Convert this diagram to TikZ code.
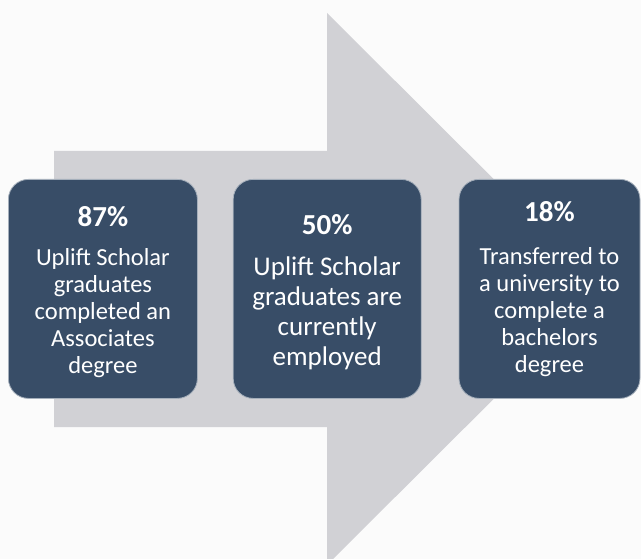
\documentclass[tikz,border=0pt]{standalone}
\usepackage{fontspec}
\setmainfont{Carlito}
\usepackage{xcolor}
\usetikzlibrary{positioning}
\definecolor{boxblue}{RGB}{56,77,103}
\definecolor{arrowgray}{RGB}{209,209,213}
\definecolor{paper}{RGB}{251,251,251}

\begin{document}
\begin{tikzpicture}[
  x=1pt, y=-1pt,
  node distance=35pt,
  stat/.style={rectangle, rounded corners=20pt, fill=boxblue, draw=boxblue!45!white, line width=0.8pt, minimum height=219pt, inner sep=0pt, text=white, align=center},
  pct/.style={font=\bfseries\fontsize{29}{29}\selectfont}
]
  \fill[paper] (0,0) rectangle (641,559);
  \useasboundingbox (0,0) rectangle (641,559);
  \fill[arrowgray] (54,151) -- (327,151) -- (327,13) -- (604,289) -- (327,565) -- (327,427) -- (54,427) -- cycle;

  \node[stat, minimum width=189pt, anchor=north west, font=\fontsize{24.5}{27}\selectfont] (assoc) at (8,179)
    {{\bfseries\fontsize{29}{29}\selectfont\rule{0pt}{27pt}87\%}\\[12pt]Uplift Scholar\\graduates\\completed an\\Associates\\degree};
  \node[stat, minimum width=188pt, right=of assoc, font=\fontsize{27}{30}\selectfont] (employed)
    {{\bfseries\fontsize{29}{29}\selectfont\rule{0pt}{27pt}50\%}\\[11pt]Uplift Scholar\\graduates are\\currently\\employed};
  \node[stat, minimum width=181pt, right=37pt of employed, font=\fontsize{24.5}{27}\selectfont] (transfer)
    {{\bfseries\fontsize{29}{29}\selectfont 18\%}\\[16pt]Transferred to\\a university to\\complete a\\bachelors\\degree};
\end{tikzpicture}
\end{document}
